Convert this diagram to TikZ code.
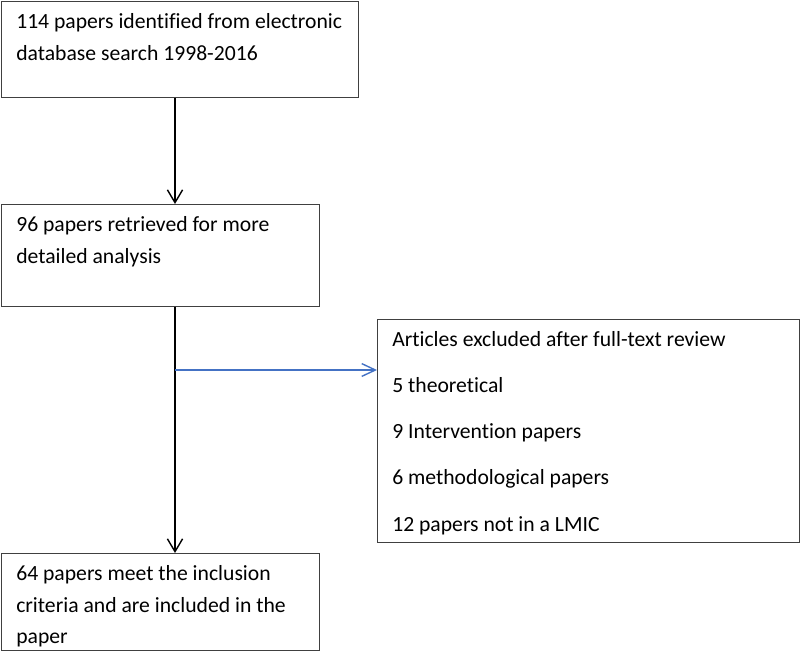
\documentclass[tikz,border=0pt]{standalone}
\usepackage{fontspec}
\setmainfont{Carlito}[Ligatures={NoCommon}]
\usetikzlibrary{arrows.meta}
\definecolor{wordblue}{RGB}{68,114,196}

\tikzstyle{block} = [rectangle, draw=black!75, line width=0.7pt, anchor=north west, inner sep=0pt]
\tikzstyle{boxtext} = [anchor=base west, inner sep=0pt]
\tikzstyle{line} = [draw, line width=1pt, -{Straight Barb[length=3.2mm,width=3.8mm,line width=1pt]}]
\tikzstyle{blueline} = [draw=wordblue, line width=1pt, -{Straight Barb[length=3.4mm,width=3.2mm,line width=1pt]}]

\newcommand{\flowfont}{\fontsize{15.4}{22.5}\selectfont}

\begin{document}
\begin{tikzpicture}
    \useasboundingbox (0,0) rectangle (20,-16.275);
    % Place nodes
    \node [block, minimum width=8.925cm, minimum height=2.4cm] (search) at (0.025,-0.025) {};
    \node [block, minimum width=7.95cm, minimum height=2.55cm] (retrieved) at (0.025,-5.1) {};
    \node [block, minimum width=7.95cm, minimum height=2.425cm] (included) at (0.025,-13.825) {};
    \node [block, minimum width=10.55cm, minimum height=5.575cm] (excluded) at (9.425,-7.975) {};
    \coordinate (branch) at (4.375,-9.25);

    % Box texts
    \node [boxtext] (search_text) at ([xshift=0.375cm,yshift=-0.69cm]search.north west)
        {\parbox[t]{8.5cm}{\flowfont 114 papers identified from electronic\\ database search 1998-2016}};
    \node [boxtext] (retrieved_text) at ([xshift=0.375cm,yshift=-0.69cm]retrieved.north west)
        {\parbox[t]{7.5cm}{\flowfont 96 papers retrieved for more\\ detailed analysis}};
    \node [boxtext] (included_text) at ([xshift=0.375cm,yshift=-0.69cm]included.north west)
        {\parbox[t]{7.5cm}{\flowfont 64 papers meet the inclusion\\ criteria and are included in the\\ paper}};
    \node [boxtext] (excluded_text) at ([xshift=0.375cm,yshift=-0.69cm]excluded.north west)
        {\parbox[t]{10cm}{\fontsize{15.4}{32.8}\selectfont Articles excluded after full-text review\\ 5 theoretical\\ 9 Intervention papers\\ 6 methodological papers\\ 12 papers not in a LMIC}};

    % Draw edges
    \path [line] (branch |- search.south) -- (branch |- retrieved.north);
    \path [line] (branch |- retrieved.south) -- (branch |- included.north);
    \path [blueline] (branch) -- (branch -| excluded.west);

\end{tikzpicture}
\end{document}
